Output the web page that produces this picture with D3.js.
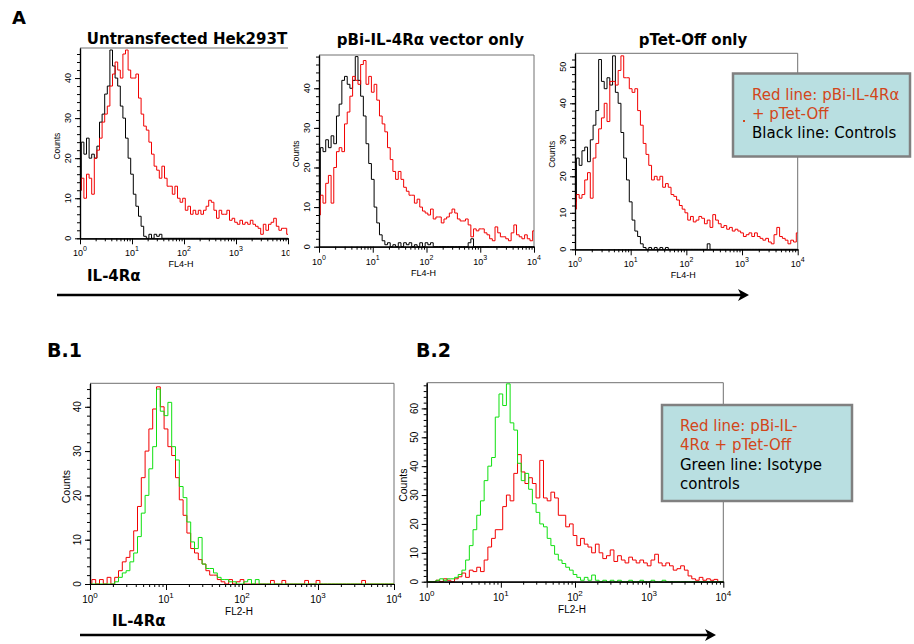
<!DOCTYPE html>
<html>
<head>
<meta charset="utf-8">
<script src="https://cdn.jsdelivr.net/npm/d3@7"></script>
<style>
  body { margin: 0; background: #fff; }
  svg { display: block; }
  .axis-text { font-family: "Liberation Sans", Arial, sans-serif; fill: #000; }
  .head { font-family: "DejaVu Sans", Verdana, sans-serif; font-weight: bold; fill: #000; }
  .legend-text { font-family: "DejaVu Sans", Verdana, sans-serif; font-size: 15px; }
</style>
</head>
<body>
<svg id="fig" width="914" height="644"></svg>
<script>
// Histogram channels, in decades of fluorescence (10^0 .. 10^4), one every 0.05 decade
const channels = d3.range(81).map(i => i / 20);

// Counts, one value per channel
const a1Control = [
  12, 24, 21, 25, 20, 21, 20, 23, 29, 31,
  36, 38, 47, 43, 40, 38, 33, 30, 25, 20,
  16, 11, 8, 5.5, 3, 0.5, 0, 1, 0, 1,
  0.5, 1, 0, 0, 0, 0, 0, 0, 0, 0,
  0, 0, 0, 0, 0, 0, 0, 0, 0, 0,
  0, 0, 0, 0, 0, 0, 0, 0, 0, 0,
  0, 0, 0, 0, 0, 0, 0, 0, 0, 0,
  0, 0, 0, 0, 0, 0, 0, 0, 0, 0,
  0];
const a1Transfected = [
  12, 15, 10, 16, 15, 11, 20, 22, 25, 29,
  31, 33, 38, 41, 44, 42, 40, 46, 47, 42,
  40, 40, 41, 35, 31, 28, 27, 24, 21, 18,
  17, 15, 18, 15, 13, 13, 11, 13, 10, 9,
  10, 7, 8, 6, 7, 6, 7, 6, 7, 8,
  9.5, 9, 7, 5, 7, 6, 6, 7, 4.5, 5,
  4, 3.5, 4.5, 3.5, 4, 3.5, 4.5, 3.5, 3, 2.5,
  1, 3.5, 2, 3.5, 4, 5, 3, 2, 2.5, 2.5,
  1];
const a2Control = [
  12, 25, 24, 27, 25, 28, 26, 33, 36, 42,
  43, 41, 40, 42, 48, 42, 38, 33, 26, 21,
  17, 10, 6, 3, 1.5, 0.5, 1, 0, 0.5, 0,
  1, 0, 1, 0.5, 1, 0, 0.5, 0, 1, 0,
  1, 0.5, 1, 0, 0, 0, 0, 0, 0, 0,
  0, 0, 0, 0, 0, 0, 1, 2, 0, 0,
  0, 0, 0, 0, 0, 0, 0, 0, 0, 0,
  0, 0, 0, 0, 0, 0, 0, 0, 0, 0,
  0];
const a2Transfected = [
  8, 13, 11, 16, 18, 11, 20, 24, 25, 24,
  31, 34, 38, 43, 42, 41, 46, 47, 41, 43,
  39, 41, 37, 33, 31, 29, 25, 22, 19, 17,
  19, 17, 15, 14, 13, 13, 11, 12, 10, 9,
  8.5, 8, 9.5, 7, 7.5, 7.5, 6, 7, 7.5, 8.5,
  9.5, 8.5, 7, 6.5, 6.5, 7, 5.5, 2.5, 4.5, 4,
  4.5, 4.5, 3.5, 3, 2, 1.5, 5, 3.5, 2.5, 2.5,
  2, 1.5, 3.5, 5.5, 3, 2.5, 2, 3, 2, 1.5,
  4];
const a3Control = [
  13, 25, 23, 27, 28, 24, 30, 34, 38, 52,
  46, 44, 47, 45, 53, 43, 40, 32, 25, 19,
  13, 8, 5, 3.5, 1.5, 0.5, 0, 0.5, 0, 0.5,
  0, 0.5, 0, 0.5, 0, 0, 0, 0, 0, 0,
  0, 0, 0, 0, 0, 0, 0, 0, 1.5, 0,
  0, 0, 0, 0, 0, 0, 0, 0, 0, 0,
  0, 0, 0, 0, 0, 0, 0, 0, 0, 0,
  0, 0, 0, 0, 0, 0, 0, 0, 0, 0,
  0];
const a3Transfected = [
  11, 15, 14, 15, 19, 21, 14, 25, 29, 33,
  36, 40, 35, 46, 46, 45, 49, 53, 47, 47,
  44, 43, 44, 38, 34, 29, 26, 23, 19, 20,
  19, 20, 17, 18, 17, 15, 14.5, 13.5, 12, 11,
  10, 8, 9, 7.5, 8, 9, 8.5, 7, 8, 6,
  9.5, 8, 7, 6, 6.5, 5.5, 6, 5, 5.5, 5,
  4.5, 3.5, 4, 4.5, 3.5, 4.5, 3.5, 3, 2.5, 3,
  2, 1.5, 4, 6, 3.5, 3, 2.5, 1.5, 2.5, 2,
  4.5];
const b1Transfected = [
  0, 1, 0, 1, 0, 1.5, 0, 1.5, 3, 5,
  6, 7.5, 12, 17.5, 24, 30, 35, 39.5, 44.5, 40,
  35, 31, 29, 24, 19, 15.5, 11.5, 8, 7, 5.5,
  4.5, 3, 2, 2, 1, 0.5, 0, 1, 0, 0.5,
  1, 0, 0, 0, 0, 0, 0, 0, 0.8, 0,
  0, 0.8, 0, 0, 0, 0, 0, 0.8, 0, 0,
  0.8, 0, 0, 0, 0, 0, 0, 0, 0, 0,
  0, 0, 0.8, 0, 0, 0, 0, 0, 0, 0,
  0];
const b1Isotype = [
  0, 0, 0, 0, 0, 0, 0, 0.5, 1.5, 2.5,
  3, 5, 7, 10.7, 16, 20, 26, 31, 44, 39,
  38, 41, 31, 28, 22, 19.5, 14, 9.5, 8, 10.5,
  4.5, 3.5, 3.5, 2.5, 1.5, 1, 1, 0.5, 0.5, 0,
  0, 0.5, 1, 0, 1, 0, 0, 0, 0, 0,
  0, 0, 0, 0, 0, 0, 0, 0, 0, 0,
  0, 0, 0, 0, 0, 0, 0, 0, 0, 0,
  0, 0, 0, 0, 0, 0, 0, 0, 0, 0,
  0];
const b2Transfected = [
  0, 0, 0, 0.5, 0, 1, 0.5, 0, 1, 1.7,
  3, 1.5, 4, 3.5, 5, 3.5, 7.5, 12, 15, 18,
  18, 26, 30, 28, 37.5, 44, 38, 34, 36, 34,
  29, 42, 29, 28, 31, 29, 23, 23, 19, 20,
  16, 12.5, 15, 13, 12, 10, 13, 10, 8, 9,
  11, 7, 9, 7.5, 6.5, 8.5, 7.5, 6.5, 7.5, 6.5,
  5.5, 7.5, 9.5, 6.5, 5.5, 6.5, 5.5, 4, 4.5, 5.5,
  4, 2, 1, 0.5, 1.5, 0.5, 1, 0.5, 0.8, 0,
  0];
const b2Isotype = [
  0, 0, 0, 0.5, 1, 0.5, 1, 1, 1.5, 2.5,
  4, 7.5, 12.5, 18, 23, 28, 35, 40, 43, 57,
  65, 61, 68.5, 55, 52.5, 41, 35, 37.5, 32, 27,
  24, 20, 19, 15, 12.5, 9.5, 7.5, 6.3, 5, 4,
  2.5, 1.5, 0.5, 1.5, 0.5, 2.3, 0.5, 0, 0.5, 0,
  0.5, 0, 0.5, 0, 0, 0.5, 0, 0, 0.5, 0,
  0, 0.5, 0, 0, 0.5, 0, 0, 0, 0, 0,
  0, 0, 0, 0, 0, 0, 0, 0, 0, 0,
  0];

// Tick labels
const xMajor = [1, 10, 100, 1000, 10000];
const yTicks40 = [0, 10, 20, 30, 40];
const yTicks50 = [0, 10, 20, 30, 40, 50];
const yTicks60 = [0, 10, 20, 30, 40, 50, 60];

const RED = '#f20000', BLACK = '#000', GREEN = '#10e010';

const svg = d3.select('#fig');

const panels = [
  {id: 'a1', left: 80, right: 288, top: 48, bottom: 238.3, ymax: 47.5, yticks: yTicks40,
   xlabel: 'FL4-H', small: true, frameRight: false, cut: 289.5,
   series: [{values: a1Control, color: BLACK}, {values: a1Transfected, color: RED}]},
  {id: 'a2', left: 319, right: 534, top: 55, bottom: 246.7, ymax: 48.4, yticks: yTicks40,
   xlabel: 'FL4-H', small: true, frameRight: true,
   series: [{values: a2Control, color: BLACK}, {values: a2Transfected, color: RED}]},
  {id: 'a3', left: 575, right: 797.7, top: 53.3, bottom: 249.3, ymax: 53.7, yticks: yTicks50,
   xlabel: 'FL4-H', small: true, frameRight: true,
   series: [{values: a3Control, color: BLACK}, {values: a3Transfected, color: RED}]},
  {id: 'b1', left: 90, right: 394, top: 383.3, bottom: 584, ymax: 45.3, yticks: yTicks40,
   xlabel: 'FL2-H', small: false, frameRight: true,
   series: [{values: b1Transfected, color: RED}, {values: b1Isotype, color: GREEN}]},
  {id: 'b2', left: 426.7, right: 723.3, top: 382.7, bottom: 581.7, ymax: 68.9, yticks: yTicks60,
   xlabel: 'FL2-H', small: false, frameRight: true,
   series: [{values: b2Transfected, color: RED}, {values: b2Isotype, color: GREEN}]}
];

const defs = svg.append('defs');

function drawPanel(p) {
  const g = svg.append('g');
  if (p.cut) {
    // the first plot is cropped on its right side in the figure
    defs.append('clipPath').attr('id', 'cut-' + p.id)
      .append('rect').attr('x', 0).attr('y', 0).attr('width', p.cut).attr('height', 644);
    g.attr('clip-path', `url(#cut-${p.id})`);
  }

  const x = d3.scaleLog().domain([1, 1e4]).range([p.left, p.right]);
  const y = d3.scaleLinear().domain([0, p.ymax]).range([p.bottom, p.top]);

  // plot area clip so that spikes stop at the frame
  defs.append('clipPath').attr('id', 'plot-' + p.id)
    .append('rect')
    .attr('x', p.left).attr('y', p.top)
    .attr('width', p.right - p.left).attr('height', p.bottom - p.top + 1);

  // frame: gray top and right border
  g.append('line')
    .attr('x1', p.left).attr('x2', p.right).attr('y1', p.top).attr('y2', p.top)
    .attr('stroke', '#707070').attr('stroke-width', 1);
  if (p.frameRight) {
    g.append('line')
      .attr('x1', p.right).attr('x2', p.right).attr('y1', p.top).attr('y2', p.bottom)
      .attr('stroke', '#707070').attr('stroke-width', 1);
  }

  // histograms, drawn as steps
  const line = d3.line()
    .x((d, i) => x(Math.pow(10, channels[i])))
    .y(d => y(d))
    .curve(d3.curveStep);
  p.series.forEach(s => {
    g.append('path')
      .datum(s.values)
      .attr('d', line)
      .attr('fill', 'none')
      .attr('stroke', s.color)
      .attr('stroke-width', 1)
      .attr('clip-path', `url(#plot-${p.id})`);
  });

  // x axis: major decade ticks and minor log ticks
  const minor = x.ticks().filter(v => Math.abs(Math.log10(v) - Math.round(Math.log10(v))) > 1e-6);
  g.append('g')
    .attr('transform', `translate(0,${p.bottom})`)
    .call(d3.axisBottom(x).tickValues(minor).tickSize(3).tickFormat('').tickSizeOuter(0));
  g.append('g')
    .attr('transform', `translate(0,${p.bottom})`)
    .call(d3.axisBottom(x).tickValues(xMajor).tickSize(6).tickFormat('').tickSizeOuter(0));

  // y axis: minor tick every 2 counts
  g.append('g')
    .attr('transform', `translate(${p.left},0)`)
    .call(d3.axisLeft(y).tickValues(d3.range(0, p.ymax, 2)).tickSize(3).tickFormat('').tickSizeOuter(0));
  g.append('g')
    .attr('transform', `translate(${p.left},0)`)
    .call(d3.axisLeft(y).tickValues(p.yticks).tickSize(5).tickFormat('').tickSizeOuter(0));
  g.selectAll('.domain').attr('stroke', '#000').attr('stroke-width', 1.2);
  g.selectAll('.tick line').attr('stroke', '#000');

  const fs = p.small ? 9 : 10;

  // y tick labels, rotated
  g.selectAll('.ylab')
    .data(p.yticks)
    .enter().append('text')
    .attr('class', 'axis-text')
    .attr('transform', d => `translate(${p.left - 9},${y(d)}) rotate(-90)`)
    .attr('text-anchor', 'middle')
    .style('font-size', fs + 'px')
    .text(d => d);

  g.append('text')
    .attr('class', 'axis-text')
    .attr('transform', `translate(${p.left - 20},${(p.top + p.bottom) / 2 + 3}) rotate(-90)`)
    .attr('text-anchor', 'middle')
    .style('font-size', (p.small ? 8.5 : 10.5) + 'px')
    .text('Counts');

  // x tick labels 10^n
  xMajor.forEach(v => {
    const t = g.append('text')
      .attr('class', 'axis-text')
      .attr('x', x(v))
      .attr('y', p.bottom + (p.small ? 18 : 19))
      .attr('text-anchor', 'middle')
      .style('font-size', fs + 'px');
    t.append('tspan').text('10');
    t.append('tspan').attr('dy', -5).style('font-size', (fs - 2) + 'px').text(Math.round(Math.log10(v)));
  });

  g.append('text')
    .attr('class', 'axis-text')
    .attr('x', (p.left + p.right) / 2 - 3)
    .attr('y', p.bottom + (p.small ? 29 : 31))
    .attr('text-anchor', 'middle')
    .style('font-size', (p.small ? 9 : 10) + 'px')
    .text(p.xlabel);
}

panels.forEach(drawPanel);

// panel titles and letters
const heads = [
  {text: 'Untransfected Hek293T', x: 187, y: 44, size: 15, anchor: 'middle'},
  {text: 'pBi-IL-4R\u03b1 vector only', x: 430.5, y: 45, size: 15, anchor: 'middle'},
  {text: 'pTet-Off only', x: 693, y: 45, size: 15, anchor: 'middle'},
  {text: 'A', x: 12, y: 23.5, size: 18, anchor: 'start'},
  {text: 'IL-4R\u03b1', x: 87, y: 281, size: 15, anchor: 'start'},
  {text: 'B.1', x: 47, y: 357, size: 19, anchor: 'start'},
  {text: 'B.2', x: 416, y: 357, size: 19, anchor: 'start'},
  {text: 'IL-4R\u03b1', x: 112, y: 626, size: 15, anchor: 'start'}
];
svg.selectAll('.head')
  .data(heads)
  .enter().append('text')
  .attr('class', 'head')
  .attr('x', d => d.x).attr('y', d => d.y)
  .attr('text-anchor', d => d.anchor)
  .style('font-size', d => d.size + 'px')
  .text(d => d.text);

// long arrows under each row
function arrow(x1, x2, yy) {
  svg.append('line')
    .attr('x1', x1).attr('x2', x2 - 5).attr('y1', yy).attr('y2', yy)
    .attr('stroke', '#000').attr('stroke-width', 2.5);
  svg.append('path')
    .attr('d', `M${x2},${yy} L${x2 - 11},${yy - 6} L${x2 - 8},${yy} L${x2 - 11},${yy + 6} Z`)
    .attr('fill', '#000');
}
arrow(57, 749, 295);
arrow(80, 716, 635);

// legend boxes
const LEGEND_RED = '#d2461a';
function legend(bx, by, bw, bh, lines, tx, ty0, step) {
  svg.append('rect')
    .attr('x', bx).attr('y', by).attr('width', bw).attr('height', bh)
    .attr('fill', '#b9dfe1').attr('stroke', '#808080').attr('stroke-width', 2.5);
  lines.forEach((l, i) => {
    svg.append('text')
      .attr('class', 'legend-text')
      .attr('x', tx).attr('y', ty0 + i * step)
      .attr('fill', l.color)
      .text(l.text);
  });
}
legend(733, 73.5, 177, 83, [
  {text: 'Red line: pBi-IL-4R\u03b1', color: LEGEND_RED},
  {text: '+ pTet-Off', color: LEGEND_RED},
  {text: 'Black line: Controls', color: '#000'}
], 752, 99.5, 19.3);
svg.append('rect').attr('x', 743).attr('y', 120).attr('width', 2).attr('height', 2).attr('fill', LEGEND_RED);

legend(662, 405, 190, 96, [
  {text: 'Red line: pBi-IL-', color: LEGEND_RED},
  {text: '4R\u03b1 + pTet-Off', color: LEGEND_RED},
  {text: 'Green line: Isotype', color: '#000'},
  {text: 'controls', color: '#000'}
], 680, 431, 19.3);
</script>
</body>
</html>
